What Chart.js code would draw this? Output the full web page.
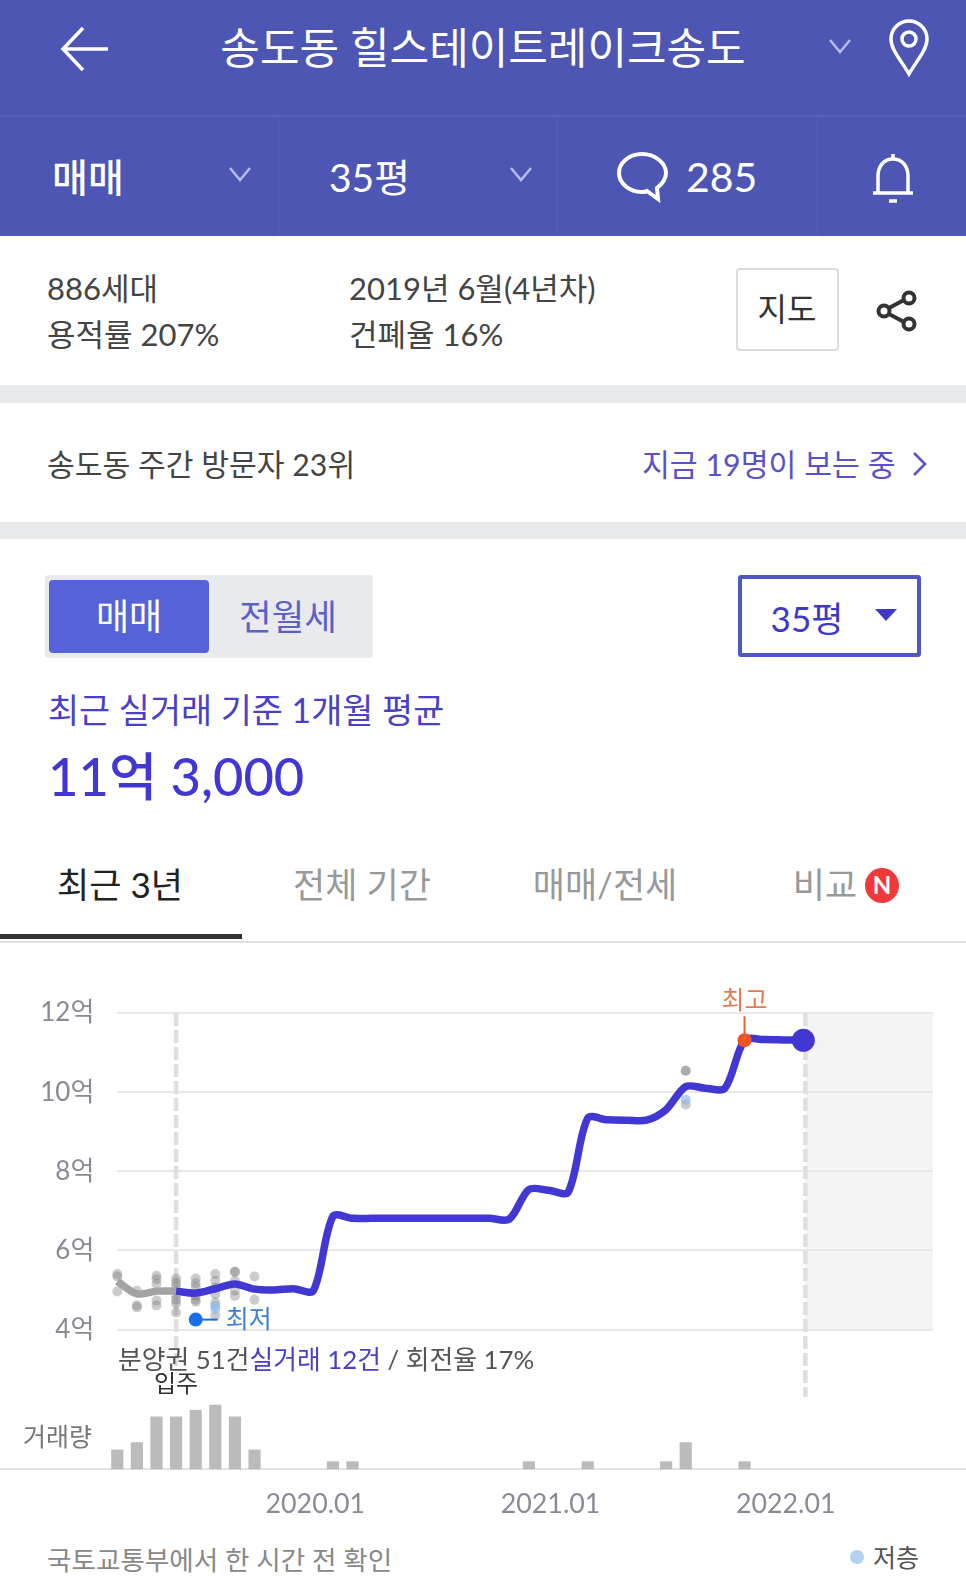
<!DOCTYPE html>
<html lang="ko">
<head>
<meta charset="UTF-8">
<title>힐스테이트레이크송도 실거래가</title>
<style>
    html, body { margin: 0; padding: 0; width: 966px; height: 1582px; overflow: hidden; background: #fff; }
    body { font-family: Lato, "Noto Sans CJK KR", sans-serif; position: relative; }
    .t { position: absolute; white-space: nowrap; transform: translateY(-50%); line-height: 1.2; }
    .c { transform: translate(-50%, -50%); }
    .box { position: absolute; box-sizing: border-box; }
    svg { position: absolute; fill: none; }
    canvas { position: absolute; left: 0; top: 970px; }
</style>
</head>
<body>
    <!-- header -->
    <div class="box" style="left:0;top:0;width:966px;height:236px;background:#4d56b2"></div>
    <div class="box" style="left:0;top:115px;width:966px;height:2px;background:#5660b9"></div>
    <div class="box" style="left:278px;top:116px;width:1px;height:120px;background:#5660b9"></div>
    <div class="box" style="left:557px;top:116px;width:1px;height:120px;background:#5660b9"></div>
    <div class="box" style="left:817px;top:116px;width:1px;height:120px;background:#5660b9"></div>

    <svg style="left:60px;top:26px" width="50" height="46" viewBox="0 0 50 46" stroke="#fff" stroke-width="3.5">
        <path d="M48 23H3M23 2L3 23L23 44"/>
    </svg>
    <div class="t c" style="left:483px;top:48px;font-size:43px;color:#fff">송도동 힐스테이트레이크송도</div>
    <svg style="left:828px;top:38px" width="24" height="16" viewBox="0 0 24 16" stroke="#b7bcec" stroke-width="2.5"><path d="M2 2L12 14L22 2"/></svg>
    <svg style="left:887px;top:18px" width="44" height="60" viewBox="0 0 44 60" stroke="#fff" stroke-width="3.5">
        <path d="M22 56C14 42 4 32 4 21a18 18 0 0 1 36 0C40 32 30 42 22 56Z"/><circle cx="22" cy="21" r="7"/>
    </svg>

    <div class="t" style="left:52px;top:177px;font-size:39px;color:#fff;font-weight:500">매매</div>
    <svg style="left:228px;top:166px" width="24" height="16" viewBox="0 0 24 16" stroke="#b7bcec" stroke-width="2.5"><path d="M2 2L12 14L22 2"/></svg>
    <div class="t" style="left:329px;top:177px;font-size:39px;color:#fff">35평</div>
    <svg style="left:509px;top:166px" width="24" height="16" viewBox="0 0 24 16" stroke="#b7bcec" stroke-width="2.5"><path d="M2 2L12 14L22 2"/></svg>
    <svg style="left:615px;top:151px" width="54" height="52" viewBox="0 0 54 52" stroke="#fff" stroke-width="4">
        <path d="M27 3C14 3 4 12 4 22s10 19 23 19c2 0 4 0 5-1l11 8l-1-11c5-4 9-9 9-15C51 12 40 3 27 3Z"/>
    </svg>
    <div class="t" style="left:686px;top:177px;font-size:41px;color:#fff">285</div>
    <svg style="left:870px;top:152px" width="46" height="52" viewBox="0 0 46 52" stroke="#fff" stroke-width="3.5">
        <path d="M3 41H43M8 41V24C8 14 14 7 23 7s15 7 15 17V41M23 2V7M19 49H27"/>
    </svg>

    <!-- complex info -->
    <div class="t" style="left:47px;top:289px;font-size:31px;color:#444">886세대</div>
    <div class="t" style="left:47px;top:335px;font-size:31px;color:#444">용적률 207%</div>
    <div class="t" style="left:349px;top:289px;font-size:31px;color:#444">2019년 6월(4년차)</div>
    <div class="t" style="left:349px;top:335px;font-size:31px;color:#444">건폐율 16%</div>
    <div class="box" style="left:736px;top:268px;width:103px;height:83px;border:2px solid #dcdcdc;border-radius:4px"></div>
    <div class="t c" style="left:787px;top:309px;font-size:32px;color:#333">지도</div>
    <svg style="left:876px;top:290px" width="42" height="42" viewBox="0 0 42 42" stroke="#333" stroke-width="4">
        <circle cx="8" cy="21" r="5.5"/><circle cx="33" cy="8" r="5.5"/><circle cx="33" cy="34" r="5.5"/><path d="M13 18L28 10M13 24L28 32"/>
    </svg>

    <div class="box" style="left:0;top:385px;width:966px;height:18px;background:#e9eaec"></div>
    <div class="t" style="left:47px;top:464px;font-size:30.2px;color:#444">송도동 주간 방문자 23위</div>
    <div class="t" style="left:642px;top:464px;font-size:30.3px;color:#5a50c8">지금 19명이 보는 중</div>
    <svg style="left:910px;top:450px" width="18" height="28" viewBox="0 0 18 28" stroke="#5a50c8" stroke-width="2.5"><path d="M4 3L15 14L4 25"/></svg>
    <div class="box" style="left:0;top:522px;width:966px;height:17px;background:#e9eaec"></div>

    <!-- toggle and size select -->
    <div class="box" style="left:45px;top:575px;width:328px;height:83px;background:#e9eaec;border-radius:4px"></div>
    <div class="box" style="left:49px;top:580px;width:160px;height:73px;background:#5663d8;border-radius:4px"></div>
    <div class="t c" style="left:129px;top:617px;font-size:36px;color:#fff">매매</div>
    <div class="t c" style="left:288px;top:617px;font-size:35.5px;color:#5a62c8">전월세</div>
    <div class="box" style="left:738px;top:575px;width:183px;height:82px;border:4px solid #4f57c5;border-radius:3px"></div>
    <div class="t c" style="left:807px;top:618px;font-size:35px;color:#4039c8">35평</div>
    <svg style="left:874px;top:608px" width="24" height="14" viewBox="0 0 24 14"><path d="M1 1H23L12 13Z" fill="#4039c8"/></svg>

    <div class="t" style="left:48px;top:710px;font-size:33.8px;color:#4a40c8">최근 실거래 기준 1개월 평균</div>
    <div class="t" style="left:48px;top:775px;font-size:52.5px;color:#4137d3;font-weight:500">11억 3,000</div>

    <!-- tabs -->
    <div class="t c" style="left:120px;top:884px;font-size:35px;color:#222">최근 3년</div>
    <div class="t c" style="left:362px;top:884px;font-size:35px;color:#999">전체 기간</div>
    <div class="t c" style="left:605px;top:884px;font-size:35px;color:#999">매매/전세</div>
    <div class="t c" style="left:825px;top:884px;font-size:35px;color:#999">비교</div>
    <div class="box" style="left:865px;top:868px;width:34px;height:35px;border-radius:50%;background:#f03a3a"></div>
    <div class="t c" style="left:882px;top:885px;font-size:24px;color:#fff;font-weight:700">N</div>
    <div class="box" style="left:0;top:941px;width:966px;height:2px;background:#dfdfdf"></div>
    <div class="box" style="left:0;top:934px;width:242px;height:5px;background:#333"></div>

    <canvas id="priceChart" width="966" height="560"></canvas>

    <!-- text laid over the chart -->
    <div class="t" style="left:118px;top:1359px;font-size:25.8px;color:#555">분양권 51건<span style="color:#4a40c8">실거래 12건</span> / 회전율 17%</div>
    <div class="t c" style="left:176px;top:1383px;font-size:24px;color:#333">입주</div>
    <div class="t" style="left:23px;top:1436px;font-size:25px;color:#777">거래량</div>

    <div class="t" style="left:47px;top:1561px;font-size:26.6px;color:#888">국토교통부에서 한 시간 전 확인</div>
    <div class="box" style="left:850px;top:1550px;width:14px;height:14px;border-radius:50%;background:#b5d1f0"></div>
    <div class="t" style="left:873px;top:1557px;font-size:25px;color:#555">저층</div>

    <script src="https://cdn.jsdelivr.net/npm/chart.js"></script>
    <script>
        // months from 2019.03, index = x value
        const months = [
            '2019.03', '2019.04', '2019.05', '2019.06', '2019.07', '2019.08', '2019.09', '2019.10', '2019.11', '2019.12',
            '2020.01', '2020.02', '2020.03', '2020.04', '2020.05', '2020.06', '2020.07', '2020.08', '2020.09', '2020.10', '2020.11', '2020.12',
            '2021.01', '2021.02', '2021.03', '2021.04', '2021.05', '2021.06', '2021.07', '2021.08', '2021.09', '2021.10', '2021.11', '2021.12',
            '2022.01', '2022.02'
        ];
        const xTickLabels = ['2020.01', '2021.01', '2022.01'];
        const priceTicks = [4, 6, 8, 10, 12];

        // price in 억: grey before move-in, blue after
        const preMoveInPrices = [5.22, 4.90, 4.97, 4.97];
        const postMoveInPrices = [
            4.97, 4.92, 5.03, 5.15, 5.02, 5.00, 5.03, 4.98,
            6.86, 6.81, 6.81, 6.81, 6.81, 6.81, 6.81, 6.81, 6.81, 6.79,
            7.54, 7.52, 7.47, 9.34, 9.30, 9.29, 9.29, 9.56, 10.14, 10.10, 10.10,
            11.31, 11.33, 11.32, 11.31
        ];

        // single trades
        const grayDotMonths = [0, 0, 0, 1, 1, 1, 2, 2, 2, 2, 2, 3, 3, 3, 3, 3, 3, 3, 4, 4, 4, 4, 4, 4, 5, 5, 5, 5, 5, 5, 6, 6, 6, 6, 6, 7, 7, 29, 29, 29];
        const grayDotPrices = [5.40, 5.34, 4.96, 4.98, 4.61, 4.56, 5.36, 5.27, 5.15, 4.73, 4.61, 5.29, 5.19, 5.10, 4.85, 4.75, 4.66, 4.43, 5.29, 5.17, 5.08, 4.85, 4.75, 4.70, 5.40, 5.23, 5.06, 4.89, 4.68, 4.35, 5.46, 5.46, 5.23, 4.98, 4.85, 5.34, 4.75, 10.54, 10.54, 9.69];
        const blueDotMonths = [5, 5, 29];
        const blueDotPrices = [4.60, 4.52, 9.81];

        const lowestMonth = 4;
        const lowestPrice = 4.25;
        const highestMonth = 32;
        const lastMonth = 35;
        const moveInMonth = 3;

        const volumeMonths = [0, 1, 2, 3, 4, 5, 6, 7, 11, 12, 21, 24, 28, 29, 32];
        const volumeCounts = [2.6, 3.6, 7.1, 7.1, 8, 8.7, 7.1, 2.6, 1, 1, 1, 1, 1, 3.6, 1];

        const toPoints = (xs, ys) => xs.map((x, i) => ({ x, y: ys[i] }));

        // grey "future" band, dashed markers, base line and the 최고/최저 callouts
        const chartDecor = {
            id: 'chartDecor',
            beforeDraw(chart) {
                const { ctx, chartArea, scales } = chart;
                const today = scales.x.getPixelForValue(lastMonth) + 2;
                ctx.save();
                ctx.fillStyle = '#f4f4f5';
                ctx.fillRect(today, scales.y.getPixelForValue(12), chartArea.right - today, scales.y.getPixelForValue(4) - scales.y.getPixelForValue(12));
                ctx.restore();
            },
            beforeDatasetsDraw(chart) {
                const { ctx, chartArea, scales, width } = chart;
                const top = scales.y.getPixelForValue(12);
                ctx.save();
                ctx.strokeStyle = '#dfdfdf';
                ctx.lineWidth = 4.5;
                ctx.setLineDash([13, 4]);
                ctx.beginPath();
                ctx.moveTo(scales.x.getPixelForValue(moveInMonth), top);
                ctx.lineTo(scales.x.getPixelForValue(moveInMonth), top + 355);
                ctx.moveTo(scales.x.getPixelForValue(lastMonth) + 2, top);
                ctx.lineTo(scales.x.getPixelForValue(lastMonth) + 2, top + 384);
                ctx.stroke();
                ctx.setLineDash([]);
                ctx.strokeStyle = '#e3e3e3';
                ctx.lineWidth = 2;
                ctx.beginPath();
                ctx.moveTo(0, chartArea.bottom);
                ctx.lineTo(width, chartArea.bottom);
                ctx.stroke();
                ctx.restore();
            },
            afterDraw(chart) {
                const { ctx, scales } = chart;
                const hx = scales.x.getPixelForValue(highestMonth);
                const hy = scales.y.getPixelForValue(postMoveInPrices[highestMonth - moveInMonth]);
                const lx = scales.x.getPixelForValue(lowestMonth);
                const ly = scales.y.getPixelForValue(lowestPrice);
                ctx.save();
                ctx.lineWidth = 2;
                ctx.strokeStyle = '#e8622f';
                ctx.beginPath();
                ctx.moveTo(hx, hy);
                ctx.lineTo(hx, hy - 24);
                ctx.stroke();
                ctx.strokeStyle = '#1a6fe8';
                ctx.beginPath();
                ctx.moveTo(lx, ly);
                ctx.lineTo(lx + 22, ly);
                ctx.stroke();
                ctx.font = '25px Lato, "Noto Sans CJK KR"';
                ctx.textBaseline = 'middle';
                ctx.textAlign = 'center';
                ctx.fillStyle = '#e07a50';
                ctx.fillText('최고', hx, hy - 39);
                ctx.textAlign = 'left';
                ctx.fillStyle = '#3b7fd6';
                ctx.fillText('최저', lx + 30, ly);
                ctx.restore();
            }
        };

        const ctx = document.getElementById('priceChart').getContext('2d');
        new Chart(ctx, {
            data: {
                datasets: [
                    {
                        type: 'scatter',
                        yAxisID: 'y',
                        data: toPoints(grayDotMonths, grayDotPrices),
                        backgroundColor: 'rgba(120, 120, 120, 0.38)',
                        pointRadius: 5,
                        pointBorderWidth: 0,
                        clip: false,
                        order: 5
                    },
                    {
                        type: 'scatter',
                        yAxisID: 'y',
                        data: toPoints(blueDotMonths, blueDotPrices),
                        backgroundColor: 'rgba(140, 185, 235, 0.65)',
                        pointRadius: 5,
                        pointBorderWidth: 0,
                        order: 4
                    },
                    {
                        type: 'line',
                        yAxisID: 'y',
                        data: toPoints(preMoveInPrices.map((_, i) => i), preMoveInPrices),
                        borderColor: '#a3a3a3',
                        borderWidth: 7.5,
                        tension: 0.3,
                        pointRadius: 0,
                        clip: false,
                        order: 3
                    },
                    {
                        type: 'line',
                        yAxisID: 'y',
                        data: toPoints(postMoveInPrices.map((_, i) => i + moveInMonth), postMoveInPrices),
                        borderColor: '#4137d3',
                        borderWidth: 7.5,
                        tension: 0.3,
                        pointRadius: 0,
                        order: 2
                    },
                    {
                        type: 'scatter',
                        yAxisID: 'y',
                        data: [{ x: lastMonth, y: postMoveInPrices[lastMonth - moveInMonth] }],
                        backgroundColor: '#4137d3',
                        pointRadius: 11.5,
                        pointBorderWidth: 0,
                        order: 1
                    },
                    {
                        type: 'scatter',
                        yAxisID: 'y',
                        data: [{ x: highestMonth, y: postMoveInPrices[highestMonth - moveInMonth] }],
                        backgroundColor: '#f4541f',
                        pointRadius: 7,
                        pointBorderWidth: 0,
                        order: 1
                    },
                    {
                        type: 'scatter',
                        yAxisID: 'y',
                        data: [{ x: lowestMonth, y: lowestPrice }],
                        backgroundColor: '#1a6fe8',
                        pointRadius: 7,
                        pointBorderWidth: 0,
                        order: 1
                    },
                    {
                        type: 'bar',
                        yAxisID: 'yVolume',
                        data: toPoints(volumeMonths, volumeCounts),
                        backgroundColor: '#bbbbbb',
                        barThickness: 11.5,
                        clip: false,
                        order: 6
                    }
                ]
            },
            options: {
                responsive: false,
                animation: false,
                devicePixelRatio: 1,
                layout: { padding: { top: 43, right: 33.3 } },
                plugins: { legend: { display: false }, tooltip: { enabled: false } },
                scales: {
                    x: {
                        type: 'linear',
                        offset: false,
                        min: 0,
                        max: 41.6,
                        grid: { display: false },
                        border: { display: false },
                        afterBuildTicks: axis => { axis.ticks = xTickLabels.map(m => ({ value: months.indexOf(m) })); },
                        afterFit: axis => { axis.height = 61; },
                        ticks: {
                            autoSkip: false,
                            maxRotation: 0,
                            padding: 11,
                            labelOffset: 2,
                            color: '#8a8a96',
                            font: { family: 'Lato, "Noto Sans CJK KR"', size: 26.8 },
                            callback: value => months[value]
                        }
                    },
                    // stacked axes: first one listed sits at the bottom
                    yVolume: {
                        stack: 'price',
                        stackWeight: 139.5,
                        position: 'left',
                        min: 0,
                        max: 19,
                        grid: { display: false },
                        border: { display: false },
                        ticks: { display: false },
                        afterFit: axis => { axis.width = 117.3; }
                    },
                    y: {
                        stack: 'price',
                        stackWeight: 316.5,
                        position: 'left',
                        min: 4,
                        max: 12,
                        grid: { color: '#e8e8e8', lineWidth: 2, drawTicks: false },
                        border: { display: false },
                        afterBuildTicks: axis => { axis.ticks = priceTicks.map(value => ({ value })); },
                        afterFit: axis => { axis.width = 117.3; },
                        ticks: {
                            padding: 23,
                            color: '#8a8a96',
                            font: { family: 'Lato, "Noto Sans CJK KR"', size: 26 },
                            callback: value => value + '억'
                        }
                    }
                }
            },
            plugins: [chartDecor]
        });
    </script>
</body>
</html>
